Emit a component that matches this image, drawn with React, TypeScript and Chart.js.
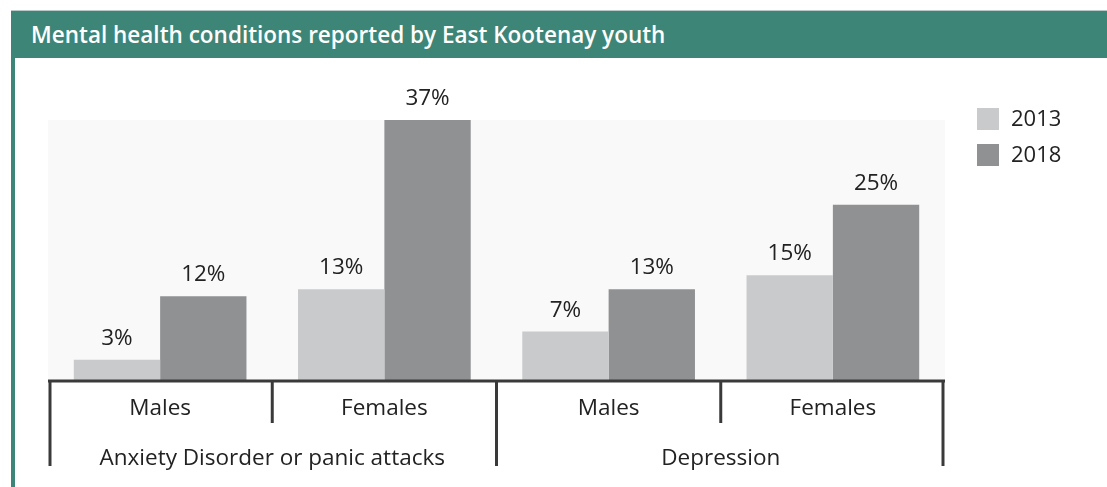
import React, { useEffect, useRef } from "react";
import { Chart, registerables } from "chart.js";

Chart.register(...registerables);

const title = "Mental health conditions reported by East Kootenay youth";
const subCategories = ["Males", "Females", "Males", "Females"];
const groups = ["Anxiety Disorder or panic attacks", "Depression"];
const seriesNames = ["2013", "2018"];
const values2013 = [3, 13, 7, 15];
const values2018 = [12, 37, 13, 25];
const seriesColors = ["#c9cacc", "#8f9193"];

const FONT = "'Open Sans', 'Noto Sans', sans-serif";
const LABEL_FONT = `22.5px ${FONT}`;

const decorPlugin = {
  id: "decor",
  beforeDraw(chart: any) {
    const { ctx, chartArea } = chart;
    ctx.save();
    ctx.fillStyle = "#f9f9f9";
    ctx.fillRect(chartArea.left, chartArea.top, chartArea.right - chartArea.left, chartArea.bottom - chartArea.top);
    ctx.restore();
  },
  afterDraw(chart: any) {
    const { ctx, chartArea } = chart;
    const x = chart.scales.x;
    const n = subCategories.length;
    const step = (chartArea.right - chartArea.left) / n;
    ctx.save();
    // value labels
    ctx.font = LABEL_FONT;
    ctx.fillStyle = "#222222";
    ctx.textAlign = "center";
    ctx.textBaseline = "alphabetic";
    chart.data.datasets.forEach((ds: any, di: number) => {
      const meta = chart.getDatasetMeta(di);
      meta.data.forEach((bar: any, i: number) => {
        ctx.fillText(ds.data[i] + "%", bar.x, bar.y - 15);
      });
    });
    // axis line
    const base = chartArea.bottom;
    ctx.strokeStyle = "#3a3a3a";
    ctx.lineWidth = 3;
    ctx.beginPath();
    ctx.moveTo(chartArea.left, base);
    ctx.lineTo(chartArea.right, base);
    ctx.stroke();
    // dividers
    for (let i = 0; i <= n; i++) {
      const px = i === n ? x.getPixelForValue(n - 1) + step / 2 : x.getPixelForValue(i) - step / 2;
      const long = i % 2 === 0;
      const adj = i === 0 ? 2 : i === n ? -2 : 0;
      ctx.beginPath();
      ctx.lineWidth = 3;
      ctx.moveTo(px + adj, base);
      ctx.lineTo(px + adj, long ? 466 : base + 42);
      ctx.stroke();
    }
    // sub labels
    ctx.fillStyle = "#222222";
    subCategories.forEach((lab, i) => {
      ctx.fillText(lab, x.getPixelForValue(i), base + 34);
    });
    groups.forEach((g, gi) => {
      const cx = (x.getPixelForValue(gi * 2) + x.getPixelForValue(gi * 2 + 1)) / 2;
      ctx.fillText(g, cx, base + 84);
    });
    // legend
    ctx.font = `22px ${FONT}`;
    seriesNames.forEach((s, i) => {
      const y = 108 + i * 36;
      ctx.fillStyle = seriesColors[i];
      ctx.fillRect(977, y, 22, 22);
      ctx.fillStyle = "#222222";
      ctx.textAlign = "left";
      ctx.textBaseline = "middle";
      ctx.fillText(s, 1011, y + 12);
    });
    ctx.restore();
  },
};

export default function App() {
  const ref = useRef<HTMLCanvasElement>(null);
  useEffect(() => {
    document.body.style.margin = "0";
    const chart = new Chart(ref.current!, {
      type: "bar",
      data: {
        labels: subCategories,
        datasets: [
          { label: seriesNames[0], data: values2013, backgroundColor: seriesColors[0] },
          { label: seriesNames[1], data: values2018, backgroundColor: seriesColors[1] },
        ],
      },
      options: {
        animation: false,
        responsive: false,
        layout: { padding: { left: 48, top: 120, right: 162, bottom: 106 } },
        scales: {
          x: { display: false },
          y: { display: false, min: 0, max: 37 },
        },
        datasets: { bar: { categoryPercentage: 0.77, barPercentage: 1 } } as any,
        plugins: { legend: { display: false }, tooltip: { enabled: false }, title: { display: false } },
      },
      plugins: [decorPlugin],
    });
    return () => chart.destroy();
  }, []);
  return (
    <div style={{ position: "relative", width: 1107, height: 487, overflow: "hidden", background: "#fff" }}>
      <canvas ref={ref} width={1107} height={487} style={{ position: "absolute", left: 0, top: 0 }} />
      <div
        style={{
          position: "absolute",
          left: 11,
          top: 10,
          width: 1096,
          height: 48,
          background: "#3d8577",
          color: "#fff",
          fontFamily: FONT,
          fontWeight: 600,
          fontSize: 22.5,
          lineHeight: "48px",
          paddingLeft: 20,
          boxSizing: "border-box",
          borderTop: "1px solid #b9c9c5",
          whiteSpace: "nowrap",
        }}
      >
        {title}
      </div>
      <div style={{ position: "absolute", left: 11, top: 58, width: 4, height: 429, background: "#3d8577" }} />
    </div>
  );
}
